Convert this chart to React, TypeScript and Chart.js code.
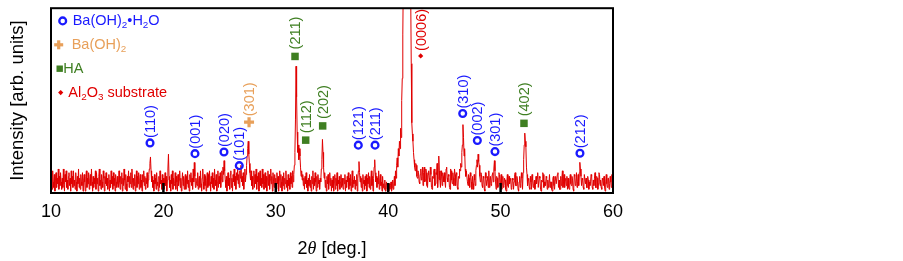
import { useEffect, useRef } from 'react';
import { Chart, registerables } from 'chart.js';

Chart.register(...registerables);

// ---------- data ----------
const ANGLE_START = 10;
const ANGLE_STEP = 0.05;

// intensity, one row per degree (x.00, x.05, ... x.95), last value = 60.00
const intensity: number[] = [
  4, 9, 2, 12, 6, 3, 10, 1, 7, 11, 3, 8, 5, 13, 2, 9, 4, 11, 6, 2,
  8, 3, 13, 5, 1, 10, 6, 12, 3, 7, 2, 9, 11, 4, 8, 1, 12, 5, 9, 3,
  12, 4, 7, 2, 11, 6, 1, 9, 5, 13, 3, 8, 2, 10, 6, 4, 11, 1, 7, 10,
  6, 1, 9, 12, 3, 8, 5, 11, 2, 7, 10, 4, 13, 6, 1, 9, 3, 8, 5, 12,
  2, 11, 5, 8, 1, 9, 13, 4, 7, 2, 10, 6, 3, 12, 8, 1, 9, 5, 11, 4,
  8, 2, 6, 10, 1, 7, 3, 12, 5, 9, 2, 11, 4, 8, 1, 10, 6, 3, 9, 5,
  3, 12, 6, 2, 9, 5, 11, 1, 8, 4, 13, 7, 2, 10, 5, 1, 9, 6, 12, 3,
  9, 5, 11, 3, 13, 7, 2, 8, 4, 10, 1, 6, 12, 3, 9, 5, 11, 2, 7, 10,
  3, 7, 1, 10, 6, 12, 4, 9, 2, 8, 5, 11, 3, 7, 10, 13, 16, 19.5, 12, 6,
  9, 3, 7, 1, 10, 5, 8, 2, 11, 4, 6, 1, 9, 3, 12, 5, 7, 2, 10, 4,
  8, 2, 6, 11, 4, 9, 1, 7, 13, 21, 9, 3, 7, 1, 10, 5, 12, 2, 8, 4,
  5, 11, 2, 9, 6, 1, 10, 4, 7, 12, 3, 8, 1, 6, 11, 4, 9, 2, 7, 10,
  2, 9, 5, 12, 3, 7, 1, 10, 6, 11, 4, 8, 2, 13, 6, 16.5, 9, 3, 8, 5,
  4, 11, 2, 7, 9, 3, 12, 5, 1, 8, 13, 6, 2, 10, 4, 9, 1, 7, 11, 3,
  10, 4, 12, 6, 1, 9, 5, 11, 3, 8, 2, 13, 7, 4, 10, 1, 6, 12, 3, 9,
  5, 11, 3, 8, 12, 6, 14, 10, 17.5, 12, 7, 3, 9, 1, 6, 11, 4, 8, 2, 10,
  12, 3, 8, 1, 10, 6, 13, 4, 9, 2, 11, 7, 14, 5, 10, 3, 12, 8, 15, 6,
  9, 4, 11, 2, 8, 13, 6, 10, 15, 20, 24, 28, 21, 16, 11, 7, 12, 4, 9, 2,
  8, 12, 3, 10, 5, 13, 2, 9, 6, 11, 1, 7, 12, 4, 8, 3, 13, 5, 10, 2,
  6, 11, 3, 9, 1, 8, 12, 4, 10, 2, 7, 13, 5, 9, 1, 11, 6, 3, 10, 4,
  8, 2, 11, 5, 9, 1, 7, 12, 3, 10, 6, 1, 9, 4, 11, 2, 8, 5, 12, 3,
  7, 1, 10, 4, 8, 2, 11, 5, 9, 3, 12, 6, 10, 15, 22, 40, 68.6, 52, 33, 22,
  26, 18, 24, 20, 14, 9, 12, 7, 10, 4, 8, 2, 9, 5, 11, 3, 7, 1, 8, 4,
  10, 3, 7, 1, 9, 5, 12, 2, 8, 4, 11, 6, 1, 9, 3, 10, 5, 7, 2, 8,
  6, 13, 18, 29, 22, 14, 8, 11, 3, 7, 1, 9, 5, 10, 2, 6, 11, 4, 8, 1,
  7, 3, 9, 1, 6, 10, 2, 8, 4, 11, 1, 7, 5, 9, 2, 6, 10, 3, 8, 4,
  2, 8, 5, 10, 1, 7, 3, 9, 6, 11, 2, 8, 4, 10, 1, 6, 12, 3, 7, 5,
  9, 2, 7, 4, 10, 1, 8, 12, 17, 11, 6, 9, 3, 8, 1, 10, 5, 7, 2, 9,
  4, 10, 1, 8, 5, 11, 3, 9, 2, 7, 12, 4, 9, 1, 8, 14, 18, 11, 6, 9,
  3, 8, 5, 12, 2, 7, 10, 4, 6, 1, 9, 3, 5, 2, 7, 1, 4, 6, 2, 5,
  3, 1, 5, 2, 4, 6, 1, 3, 7, 2, 5, 9, 4, 12, 8, 15, 19, 14, 24, 20,
  28, 24, 35, 30, 50, 62, 86, 120, 160, 260, 420, 650, 900, 1000, 1000, 800, 600, 400, 250, 160,
  110, 70, 38, 32, 28, 22, 18, 14, 12, 16, 15, 9, 8, 12, 11, 6, 5, 10, 13, 7,
  9, 14, 4, 11, 14, 6, 7, 13, 11, 4, 3, 10, 12, 8, 6, 14, 10, 3, 2, 9,
  8, 12, 13, 4, 5, 11, 10, 16, 3, 8, 20, 12, 7, 3, 12, 9, 4, 11, 9, 6,
  11, 6, 3, 13, 14, 8, 6, 10, 9, 3, 2, 13, 12, 7, 5, 11, 8, 4, 13, 10,
  4, 11, 10, 3, 2, 9, 8, 13, 12, 16, 14, 22, 26, 37, 30, 20, 24, 13, 9, 12,
  12, 6, 4, 10, 8, 3, 11, 9, 6, 2, 9, 5, 2, 10, 7, 4, 12, 15, 18, 14,
  21, 17, 15, 9, 6, 11, 10, 4, 3, 9, 8, 2, 1, 11, 8, 4, 7, 9, 3, 12,
  3, 7, 9, 4, 5, 10, 11, 6, 13, 17.5, 12, 6, 2, 9, 8, 3, 4, 11, 10, 5,
  6, 10, 2, 5, 9, 3, 4, 8, 7, 2, 1, 6, 10, 4, 3, 9, 5, 7, 8, 2,
  3, 8, 7, 2, 6, 10, 11, 4, 4, 9, 7, 2, 1, 6, 9, 3, 5, 11, 8, 2,
  11, 18, 26, 32.4, 28, 25, 14, 10, 4, 7, 8, 3, 2, 9, 6, 2, 10, 7, 3, 5,
  7, 2, 4, 9, 5, 8, 11, 3, 3, 9, 8, 2, 1, 7, 6, 11, 10, 3, 6, 4,
  4, 9, 8, 2, 7, 3, 5, 10, 3, 6, 6, 2, 1, 8, 9, 4, 2, 7, 9, 5,
  5, 10, 11, 3, 7, 2, 2, 9, 4, 8, 12, 3, 6, 10, 3, 7, 8, 4, 9, 2,
  8, 3, 2, 7, 10, 5, 4, 9, 7, 2, 1, 10, 9, 4, 5, 11, 3, 6, 10, 4,
  11, 16.6, 13, 9, 4, 8, 7, 3, 2, 10, 10, 5, 8, 3, 3, 9, 7, 2, 6, 4,
  6, 10, 9, 3, 2, 7, 4, 8, 11, 3, 3, 9, 8, 2, 5, 11, 10, 4, 7, 3,
  2, 8, 7, 4, 9, 3, 1, 6, 10, 5, 3, 8, 8, 2, 5, 9, 6, 3, 10, 5,
  7,
];

const xTicks = [10, 20, 30, 40, 50, 60];
const innerTicks = [20, 30, 40, 50];

// peak annotations
const peakLabels = ['(110)', '(001)', '(020)', '(101)', '(301)', '(211)', '(112)', '(202)', '(121)', '(211)', '(0006)', '(310)', '(002)', '(301)', '(402)', '(212)'];
const peakAngles = [18.81, 22.81, 25.39, 26.75, 27.62, 31.71, 32.66, 34.17, 37.34, 38.83, 42.89, 46.63, 47.93, 49.5, 52.08, 57.06];
const peakLevels = [27.1, 21.3, 22.2, 14.8, 38.3, 73.9, 28.6, 36.3, 25.9, 25.9, 74.2, 43.0, 28.4, 22.4, 37.7, 21.5];
const peakPhases = ['hyd', 'hyd', 'hyd', 'hyd', 'anh', 'ha', 'ha', 'ha', 'hyd', 'hyd', 'sub', 'hyd', 'hyd', 'hyd', 'ha', 'hyd'];

// legend
const legendPhases = ['hyd', 'anh', 'ha', 'sub'];
const legendTexts: [string, boolean][][] = [
  [['Ba(OH)', false], ['2', true], ['\u2022H', false], ['2', true], ['O', false]],
  [['Ba(OH)', false], ['2', true]],
  [['HA', false]],
  [['Al', false], ['2', true], ['O', false], ['3', true], [' substrate', false]],
];

const xTitleParts: [string, string][] = [['2', 'n'], ['\u03b8', 'i'], [' [deg.]', 'n']];
const yTitle = 'Intensity [arb. units]';

// ---------- styles ----------
const FONT = '"Liberation Sans", Arial, sans-serif';
const RED = '#e00000';
const phaseStyle: Record<string, any> = {
  hyd: { color: '#1a1aff', pointStyle: 'circle', radius: 3.4, borderWidth: 2.3, fill: 'rgba(0,0,0,0)', gap: 5 },
  anh: { color: '#e8a05a', pointStyle: 'cross', radius: 5, borderWidth: 3.2, fill: '#e8a05a', gap: 6 },
  ha: { color: '#3f7f22', pointStyle: 'rect', radius: 5.3, borderWidth: 0, fill: '#3f7f22', gap: 7 },
  sub: { color: '#e00000', pointStyle: 'rectRot', radius: 2.6, borderWidth: 0, fill: '#e00000', gap: 5 },
};

function drawRich(ctx: CanvasRenderingContext2D, x: number, y: number, parts: [string, boolean][], size: number) {
  let cx = x;
  for (const [t, sub] of parts) {
    const s = sub ? size * 0.68 : size;
    ctx.font = `${s}px ${FONT}`;
    ctx.fillText(t, cx, y + (sub ? size * 0.3 : 0));
    cx += ctx.measureText(t).width;
  }
}

const overlay = {
  id: 'overlay',
  afterDatasetsDraw(chart: any) {
    const ctx: CanvasRenderingContext2D = chart.ctx;
    const xs = chart.scales.x;
    const ys = chart.scales.y;
    ctx.save();
    ctx.font = `14.5px ${FONT}`;
    ctx.textAlign = 'left';
    ctx.textBaseline = 'middle';
    peakLabels.forEach((lab, i) => {
      const st = phaseStyle[peakPhases[i]];
      const px = xs.getPixelForValue(peakAngles[i]);
      const py = ys.getPixelForValue(peakLevels[i]);
      ctx.save();
      ctx.translate(px + 1, py - st.gap);
      ctx.rotate(-Math.PI / 2);
      ctx.fillStyle = st.color;
      ctx.fillText(lab, 0, 0);
      ctx.restore();
    });
    ctx.restore();
  },
  afterDraw(chart: any) {
    const ctx: CanvasRenderingContext2D = chart.ctx;
    const a = chart.chartArea;
    const xs = chart.scales.x;
    ctx.save();
    // frame
    ctx.strokeStyle = '#000';
    ctx.lineWidth = 2;
    ctx.strokeRect(a.left, a.top, a.right - a.left, a.bottom - a.top);
    // inner ticks
    ctx.fillStyle = '#000';
    innerTicks.forEach((t) => {
      const px = xs.getPixelForValue(t);
      ctx.fillRect(px - 1.25, a.bottom - 10, 2.5, 10);
    });
    // legend
    ctx.textAlign = 'left';
    ctx.textBaseline = 'middle';
    const rowH = 23.9;
    const markerX = [a.left + 11.7, a.left + 7.7, a.left + 8.7, a.left + 9.7];
    const textX = [a.left + 21.7, a.left + 20.7, a.left + 12.3, a.left + 17.3];
    legendPhases.forEach((ph, i) => {
      const st = phaseStyle[ph];
      const cy = a.top + 12.7 + i * rowH;
      const mx = markerX[i];
      ctx.fillStyle = st.color;
      ctx.strokeStyle = st.color;
      if (ph === 'hyd') {
        ctx.lineWidth = 2.3;
        ctx.beginPath();
        ctx.arc(mx, cy, 3.4, 0, Math.PI * 2);
        ctx.stroke();
      } else if (ph === 'anh') {
        ctx.fillRect(mx - 4.5, cy - 1.6, 9, 3.2);
        ctx.fillRect(mx - 1.6, cy - 4.5, 3.2, 9);
      } else if (ph === 'ha') {
        ctx.fillRect(mx - 3.2, cy - 3.2, 6.4, 6.4);
      } else {
        ctx.beginPath();
        ctx.moveTo(mx, cy - 2.6);
        ctx.lineTo(mx + 2.6, cy);
        ctx.lineTo(mx, cy + 2.6);
        ctx.lineTo(mx - 2.6, cy);
        ctx.closePath();
        ctx.fill();
      }
      ctx.fillStyle = st.color;
      drawRich(ctx, textX[i], cy, legendTexts[i], 14.5);
    });
    // x title
    ctx.fillStyle = '#000';
    const fonts: Record<string, string> = { n: `18px ${FONT}`, i: `italic 18px "Liberation Serif", serif` };
    let total = 0;
    xTitleParts.forEach(([t, f]) => { ctx.font = fonts[f]; total += ctx.measureText(t).width; });
    let cx = (a.left + a.right) / 2 - total / 2;
    xTitleParts.forEach(([t, f]) => {
      ctx.font = fonts[f];
      ctx.fillText(t, cx, 249);
      cx += ctx.measureText(t).width;
    });
    // y title
    ctx.save();
    ctx.translate(17.5, (a.top + a.bottom) / 2);
    ctx.rotate(-Math.PI / 2);
    ctx.textAlign = 'center';
    ctx.font = `18.5px ${FONT}`;
    ctx.fillText(yTitle, 0, 0);
    ctx.restore();
    ctx.restore();
  },
};

export default function App() {
  const ref = useRef<HTMLCanvasElement | null>(null);
  useEffect(() => {
    document.body.style.margin = '0';
    const canvas = ref.current!;
    const lineData = intensity.map((v, i) => ({ x: ANGLE_START + i * ANGLE_STEP, y: v }));
    const markerSets = ['hyd', 'anh', 'ha', 'sub'].map((ph) => {
      const st = phaseStyle[ph];
      return {
        type: 'scatter' as const,
        data: peakAngles.map((x, i) => ({ x, y: peakLevels[i], ph: peakPhases[i] })).filter((p) => p.ph === ph),
        pointStyle: st.pointStyle,
        pointRadius: st.radius,
        pointBorderWidth: st.borderWidth,
        pointBorderColor: st.color,
        pointBackgroundColor: st.fill,
        showLine: false,
        order: 0,
        clip: false as any,
      };
    });
    const chart = new Chart(canvas, {
      type: 'scatter',
      data: {
        datasets: [
          ...markerSets,
          {
            type: 'scatter' as const,
            data: lineData,
            showLine: true,
            borderColor: RED,
            borderWidth: 1,
            pointRadius: 0,
            order: 1,
          },
        ] as any,
      },
      options: {
        responsive: false,
        animation: false,
        events: [],
        layout: { padding: { left: 51, top: 4, right: 290, bottom: 0 } },
        plugins: { legend: { display: false }, tooltip: { enabled: false } },
        scales: {
          x: {
            type: 'linear',
            min: 10,
            max: 60,
            afterBuildTicks: (s: any) => { s.ticks = xTicks.map((v) => ({ value: v })); },
            afterFit: (s: any) => { s.height = 68; },
            grid: { display: false, drawTicks: false },
            border: { display: false },
            ticks: { color: '#000', font: { size: 18, family: FONT }, padding: 8, maxRotation: 0 },
          },
          y: {
            type: 'linear',
            display: false,
            min: 0,
            max: 100,
          },
        },
      },
      plugins: [overlay],
    });
    return () => chart.destroy();
  }, []);
  return (
    <div style={{ position: 'absolute', left: 0, top: 0, width: 903, height: 261, background: '#fff' }}>
      <canvas ref={ref} width={903} height={261} style={{ display: 'block', width: 903, height: 261 }} />
    </div>
  );
}
